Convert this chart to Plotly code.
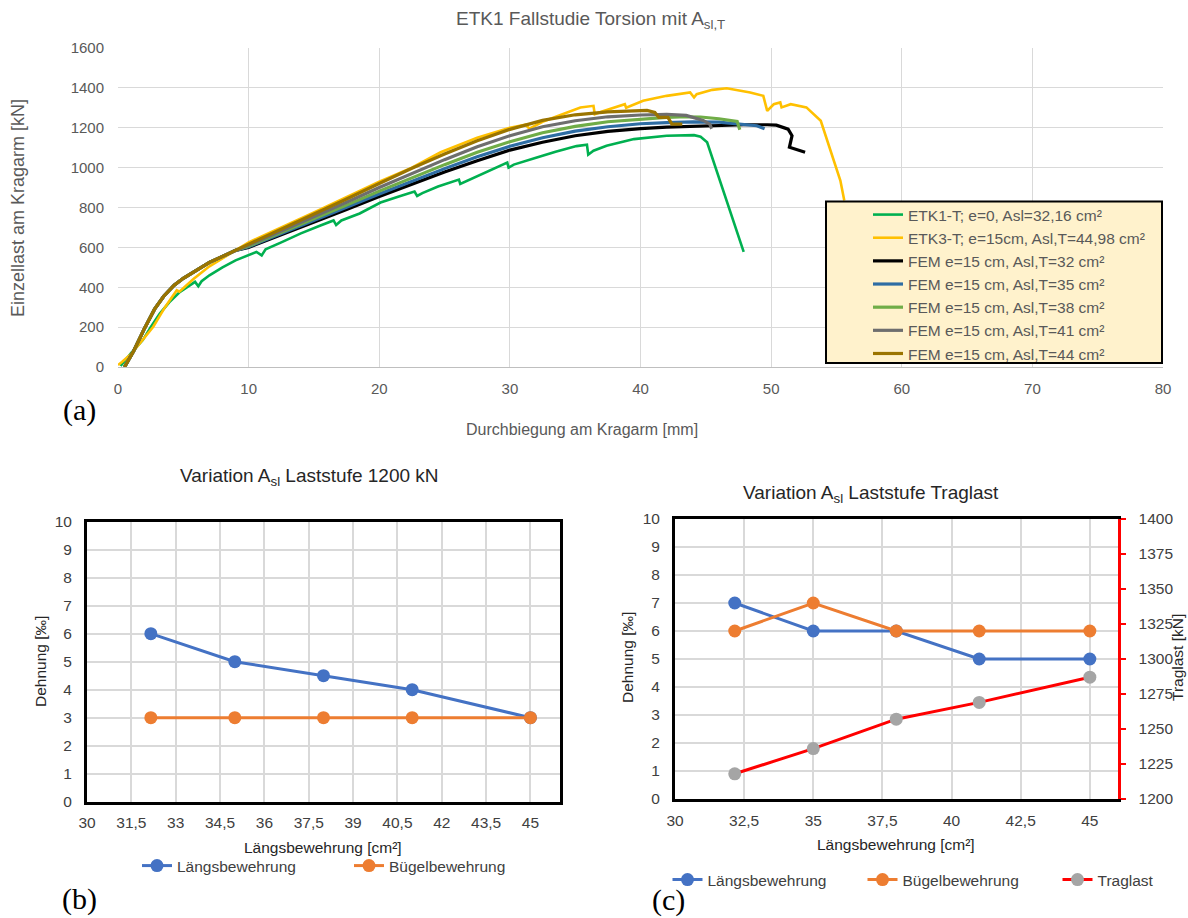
import plotly.graph_objects as go

# ---------------- (a) load-deflection curves ----------------
etk1_x = [0.2, 1.0, 1.9, 2.5, 3.2, 4.0, 4.75, 5.5, 5.9, 6.15, 6.4, 7.0, 8.0, 9.0, 10.0, 10.6, 11.0, 11.3,
          12.5, 14.0, 15.5, 16.5, 16.7, 17.1, 18.5, 20.1, 21.5, 22.7, 22.9, 23.3, 24.5, 26.1, 26.2, 26.6,
          28.0, 29.8, 29.9, 30.3, 32.0, 33.5, 35.1, 35.9, 36.0, 36.4, 37.4, 39.5, 42.0, 44.1, 44.6, 45.1, 47.9]
etk1_y = [5, 70, 135, 200, 268, 330, 377, 410, 427, 405, 430, 460, 500, 535, 560, 577, 560, 590,
          625, 670, 710, 735, 712, 735, 770, 825, 855, 880, 858, 872, 905, 940, 918, 930,
          975, 1025, 1000, 1015, 1050, 1080, 1108, 1115, 1065, 1085, 1110, 1143, 1160, 1163, 1155, 1127, 577]

etk3_x = [0.0, 0.3, 1.05, 1.8, 2.7, 3.6, 4.5, 4.7, 5.8, 7.0, 10.0, 15.0, 20.0, 22.5, 24.7, 27.5, 30.0,
          31.2, 31.5, 32.5, 35.4, 36.4, 36.5, 37.0, 38.4, 38.8, 38.9, 40.2, 42.0, 43.8, 44.1, 44.3,
          45.5, 46.6, 48.4, 49.4, 49.7, 50.2, 50.7, 50.8, 51.5, 52.7, 53.8, 55.3, 55.6]
etk3_y = [10, 25, 68, 130, 202, 300, 385, 378, 443, 505, 625, 775, 930, 1000, 1077, 1150, 1200,
          1215, 1195, 1230, 1302, 1310, 1268, 1280, 1310, 1318, 1300, 1335, 1360, 1377, 1352, 1368,
          1390, 1398, 1377, 1360, 1285, 1318, 1327, 1302, 1318, 1302, 1235, 935, 835]

# shared elastic branch of the FEM runs
fem_base_x = [0.5, 1.2, 2.0, 2.8, 3.5, 4.3, 5.0, 6.0, 7.0, 8.0, 9.0]
fem_base_y = [0, 80, 190, 290, 355, 410, 445, 485, 525, 555, 585]
fem_mid_x = [10, 12.5, 15, 17.5, 20, 22.5, 25, 27.5, 30, 32.5, 35, 37.5, 40]

fem32_mid = [600, 662, 726, 790, 855, 917, 978, 1035, 1088, 1127, 1160, 1182, 1196]
fem35_mid = [603, 668, 734, 801, 868, 932, 995, 1055, 1107, 1150, 1183, 1205, 1220]
fem38_mid = [607, 674, 742, 812, 882, 950, 1015, 1077, 1130, 1175, 1207, 1230, 1244]
fem41_mid = [612, 682, 752, 826, 900, 972, 1040, 1105, 1160, 1205, 1235, 1255, 1264]
fem44_mid = [617, 690, 765, 843, 920, 997, 1068, 1135, 1192, 1237, 1265, 1280, 1286]

fem32_tail_x = [42, 44, 46, 48, 49.7, 50.4, 51.3, 51.6, 51.4, 52.6]
fem32_tail_y = [1203, 1208, 1212, 1215, 1215, 1213, 1193, 1160, 1102, 1077]
fem35_tail_x = [42, 44, 46, 47.5, 48.9, 49.5]
fem35_tail_y = [1226, 1229, 1228, 1220, 1210, 1195]
fem38_tail_x = [42, 43, 44.6, 46, 47.4, 47.6]
fem38_tail_y = [1252, 1255, 1254, 1245, 1232, 1190]
fem41_tail_x = [42, 43.5, 44.8, 45.3, 45.45]
fem41_tail_y = [1267, 1262, 1237, 1218, 1195]
fem44_tail_x = [40.5, 41.1, 41.4, 42.1, 42.4, 43.2]
fem44_tail_y = [1287, 1277, 1252, 1252, 1218, 1218]

series_a = [
    ("ETK1-T; e=0, Asl=32,16 cm²", etk1_x, etk1_y, "#00B050", 2.6),
    ("ETK3-T; e=15cm, Asl,T=44,98 cm²", etk3_x, etk3_y, "#FFC000", 2.6),
    ("FEM e=15 cm, Asl,T=32 cm²", fem_base_x + fem_mid_x + fem32_tail_x, fem_base_y + fem32_mid + fem32_tail_y, "#000000", 3.2),
    ("FEM e=15 cm, Asl,T=35 cm²", fem_base_x + fem_mid_x + fem35_tail_x, fem_base_y + fem35_mid + fem35_tail_y, "#2E6DA4", 3.2),
    ("FEM e=15 cm, Asl,T=38 cm²", fem_base_x + fem_mid_x + fem38_tail_x, fem_base_y + fem38_mid + fem38_tail_y, "#70AD47", 3.2),
    ("FEM e=15 cm, Asl,T=41 cm²", fem_base_x + fem_mid_x + fem41_tail_x, fem_base_y + fem41_mid + fem41_tail_y, "#6E6E6E", 3.2),
    ("FEM e=15 cm, Asl,T=44 cm²", fem_base_x + fem_mid_x + fem44_tail_x, fem_base_y + fem44_mid + fem44_tail_y, "#9A7400", 3.2),
]

# ---------------- (b) strain at 1200 kN ----------------
b_asl = [32.16, 35, 38, 41, 45]
b_laengs = [6, 5, 4.5, 4, 3]
b_buegel = [3, 3, 3, 3, 3]

# ---------------- (c) strain at ultimate load ----------------
c_asl = [32.16, 35, 38, 41, 45]
c_laengs = [7, 6, 6, 5, 5]
c_buegel = [6, 7, 6, 6, 6]
c_traglast = [1218, 1236, 1257, 1269, 1287]

W, H = 1188, 918
FONT = "Liberation Sans, Arial, sans-serif"
SERIF = "Liberation Serif, Times New Roman, serif"
GRID = "#D9D9D9"
BLUE, ORANGE, GREY, RED = "#4472C4", "#ED7D31", "#A5A5A5", "#FF0000"


def px(x):
    return x / W


def py(y):
    return 1 - y / H


fig = go.Figure()

for name, xs, ys, col, lw in series_a:
    fig.add_trace(go.Scatter(x=xs, y=ys, mode="lines", name=name, line=dict(color=col, width=lw),
                             xaxis="x", yaxis="y", legend="legend"))

fig.add_trace(go.Scatter(x=b_asl, y=b_laengs, mode="lines+markers", name="Längsbewehrung",
                         line=dict(color=BLUE, width=3), marker=dict(size=13, color=BLUE),
                         xaxis="x2", yaxis="y2", legend="legend2"))
fig.add_trace(go.Scatter(x=b_asl, y=b_buegel, mode="lines+markers", name="Bügelbewehrung",
                         line=dict(color=ORANGE, width=3), marker=dict(size=13, color=ORANGE),
                         xaxis="x2", yaxis="y2", legend="legend2"))

fig.add_trace(go.Scatter(x=c_asl, y=c_laengs, mode="lines+markers", name="Längsbewehrung",
                         line=dict(color=BLUE, width=3), marker=dict(size=13, color=BLUE),
                         xaxis="x3", yaxis="y3", legend="legend3"))
fig.add_trace(go.Scatter(x=c_asl, y=c_buegel, mode="lines+markers", name="Bügelbewehrung",
                         line=dict(color=ORANGE, width=3), marker=dict(size=13, color=ORANGE),
                         xaxis="x3", yaxis="y3", legend="legend3"))
fig.add_trace(go.Scatter(x=c_asl, y=c_traglast, mode="lines+markers", name="Traglast",
                         line=dict(color=RED, width=3), marker=dict(size=13, color=GREY),
                         xaxis="x3", yaxis="y4", legend="legend3"))

top_tick = dict(family=FONT, size=15, color="#595959")
bot_tick = dict(family=FONT, size=15.5, color="#404040")

fig.update_layout(
    width=W, height=H, margin=dict(l=0, r=0, t=0, b=0, autoexpand=False),
    paper_bgcolor="white", plot_bgcolor="white",
    separators=",.",
    font=dict(family=FONT),
    xaxis=dict(domain=[px(118), px(1163)], anchor="y", range=[0, 80], dtick=10, tick0=0,
               showgrid=True, gridcolor=GRID, gridwidth=1.3, zeroline=False,
               showline=True, linecolor="#BFBFBF", linewidth=1.3,
               tickfont=top_tick, ticks="", ticklabelstandoff=8, automargin=False),
    yaxis=dict(domain=[py(367), py(48)], anchor="x", range=[0, 1600], dtick=200,
               showgrid=True, gridcolor=GRID, gridwidth=1.3, zeroline=False,
               tickfont=top_tick, ticks="", ticklabelstandoff=13, automargin=False),
    xaxis2=dict(domain=[px(87), px(560)], anchor="y2", range=[30, 46], dtick=1.5, tick0=30,
                showgrid=True, gridcolor=GRID, gridwidth=1.5, zeroline=False,
                showline=True, linecolor="black", linewidth=3, mirror=True,
                tickfont=bot_tick, ticks="", ticklabelstandoff=5, automargin=False),
    yaxis2=dict(domain=[py(801.7), py(521.7)], anchor="x2", range=[0, 10], dtick=1,
                showgrid=True, gridcolor=GRID, gridwidth=1.5, zeroline=False,
                showline=True, linecolor="black", linewidth=3, mirror=True,
                tickfont=bot_tick, ticks="", ticklabelstandoff=9, automargin=False),
    xaxis3=dict(domain=[px(675), px(1117.5)], anchor="y3", range=[30, 46], dtick=2.5, tick0=30,
                showgrid=True, gridcolor=GRID, gridwidth=1.5, zeroline=False,
                showline=True, linecolor="black", linewidth=3, mirror=True,
                tickfont=bot_tick, ticks="", ticklabelstandoff=5, automargin=False),
    yaxis3=dict(domain=[py(799), py(519)], anchor="x3", range=[0, 10], dtick=1,
                showgrid=True, gridcolor=GRID, gridwidth=1.5, zeroline=False,
                showline=True, linecolor="black", linewidth=3,
                tickfont=bot_tick, ticks="", ticklabelstandoff=9, automargin=False),
    yaxis4=dict(domain=[py(799), py(519)], anchor="x3", overlaying="y3", side="right",
                range=[1200, 1400], dtick=25, showgrid=False, zeroline=False,
                showline=True, linecolor=RED, linewidth=3,
                ticks="outside", ticklen=5, tickwidth=2, tickcolor=RED,
                tickfont=bot_tick, ticklabelstandoff=10, automargin=False),
    legend=dict(x=px(868), y=py(198), xanchor="left", yanchor="top",
                bgcolor="rgba(0,0,0,0)", borderwidth=0,
                font=dict(family=FONT, size=15.5, color="#595959")),
    legend2=dict(orientation="h", x=px(349), y=py(866), xanchor="center", yanchor="middle",
                 bgcolor="rgba(0,0,0,0)", entrywidth=167, entrywidthmode="pixels",
                 font=dict(family=FONT, size=15.5, color="#404040")),
    legend3=dict(orientation="h", x=px(960), y=py(880), xanchor="center", yanchor="middle",
                 bgcolor="rgba(0,0,0,0)", entrywidth=150, entrywidthmode="pixels",
                 font=dict(family=FONT, size=15.5, color="#404040")),
    shapes=[dict(type="rect", xref="paper", yref="paper", layer="above",
                 x0=px(826), x1=px(1162), y0=py(363), y1=py(201.5),
                 fillcolor="#FFF2CC", line=dict(color="black", width=2))],
)


def label(text, x, y, size, color, family=FONT, angle=0):
    fig.add_annotation(text=text, x=px(x), y=py(y), xref="paper", yref="paper",
                       xanchor="center", yanchor="middle", showarrow=False, textangle=angle,
                       font=dict(family=family, size=size, color=color))


label("ETK1 Fallstudie Torsion mit A<sub>sl,T</sub>", 590, 20, 19, "#595959")
label("Einzellast am Kragarm [kN]", 18, 208, 18, "#595959", angle=-90)
label("Durchbiegung am Kragarm [mm]", 582, 429, 16, "#595959")
label("(a)", 79, 410, 30, "black", family=SERIF)

label("Variation A<sub>sl</sub> Laststufe 1200 kN", 309, 477, 19, "#262626")
label("Dehnung [‰]", 40, 662, 15.5, "#262626", angle=-90)
label("Längsbewehrung [cm²]", 323, 847, 15.5, "#262626")
label("(b)", 79, 899, 30, "black", family=SERIF)

label("Variation A<sub>sl</sub> Laststufe Traglast", 871, 494, 19, "#262626")
label("Dehnung [‰]", 627, 658, 15.5, "#262626", angle=-90)
label("Traglast [kN]", 1177, 658, 15.5, "#262626", angle=-90)
label("Längsbewehrung [cm²]", 896, 844, 15.5, "#262626")
label("(c)", 668, 900, 30, "black", family=SERIF)

fig.write_html("out.html")
